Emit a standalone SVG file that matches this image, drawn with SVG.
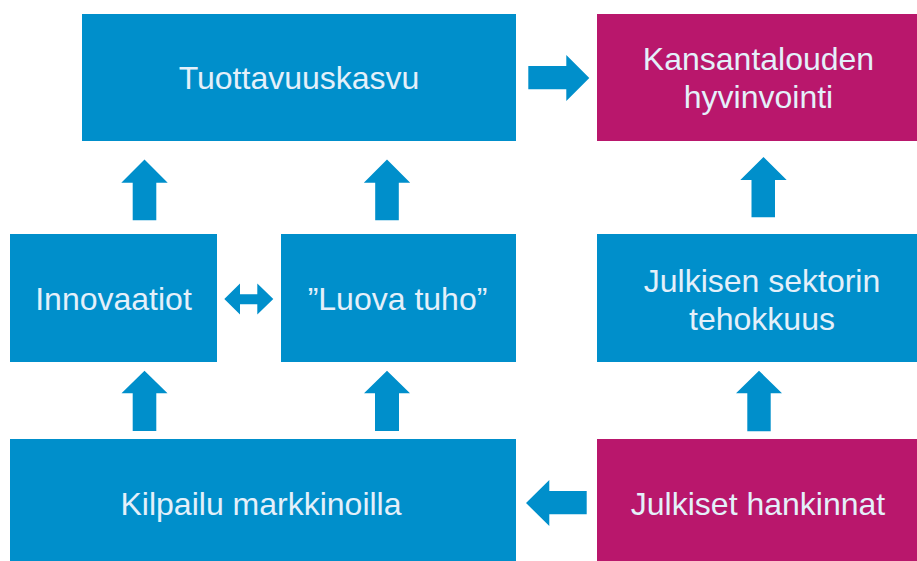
<svg xmlns="http://www.w3.org/2000/svg" width="917" height="561" viewBox="0 0 917 561">
<style>
.b{fill:#008fcb}
.m{fill:#b9176c}
.t{fill:#e4f0fa;font-family:"Liberation Sans",Arial,sans-serif;font-size:32px;text-anchor:middle}
.a{fill:#008fcb}
</style>
<rect width="917" height="561" fill="#ffffff"/>
<g id="tuottavuuskasvu"><rect class="b" x="82" y="14" width="434" height="127"/><text class="t" x="299" y="89">Tuottavuuskasvu</text></g>
<g id="kansantalouden"><rect class="m" x="597" y="14" width="320" height="127"/><text class="t" x="758.5" y="69.5">Kansantalouden</text><text class="t" x="758.5" y="107.5">hyvinvointi</text></g>
<g id="innovaatiot"><rect class="b" x="10" y="234" width="207" height="128"/><text class="t" x="113.5" y="310">Innovaatiot</text></g>
<g id="luova"><rect class="b" x="281" y="234" width="235" height="128"/><text class="t" x="397.5" y="310">”Luova tuho”</text></g>
<g id="julkisen"><rect class="b" x="597" y="234" width="320" height="128"/><text class="t" x="762" y="291.5">Julkisen sektorin</text><text class="t" x="762" y="329.5">tehokkuus</text></g>
<g id="kilpailu"><rect class="b" x="10" y="439" width="506" height="122"/><text class="t" x="261" y="515">Kilpailu markkinoilla</text></g>
<g id="hankinnat"><rect class="m" x="597" y="439" width="320" height="122"/><text class="t" x="758" y="515">Julkiset hankinnat</text></g>
<g id="connectors">
<polygon class="a" points="144.5,159.5 167.7,182.7 156.3,182.7 156.3,220.3 132.7,220.3 132.7,182.7 121.3,182.7"/>
<polygon class="a" points="387,159.5 410.2,182.7 398.8,182.7 398.8,220.3 375.2,220.3 375.2,182.7 363.8,182.7"/>
<polygon class="a" points="144.5,370.7 167.5,393.3 156.3,393.3 156.3,431 132.7,431 132.7,393.3 121.5,393.3"/>
<polygon class="a" points="387,370.7 410,393.3 399,393.3 399,431 375,431 375,393.3 364,393.3"/>
<polygon class="a" points="763.5,157 786.7,180 775,180 775,217.3 751.5,217.3 751.5,180 740.3,180"/>
<polygon class="a" points="759,370.7 782,393.3 770.7,393.3 770.7,431.3 747.3,431.3 747.3,393.3 736,393.3"/>
<polygon class="a" points="528.3,66 566.3,66 566.3,55 589.3,78 566.3,101 566.3,89.3 528.3,89.3"/>
<polygon class="a" points="586.7,491 549.3,491 549.3,480 526,503 549.3,526 549.3,514.3 586.7,514.3"/>
<polygon class="a" points="224.3,299 240,283.5 240,294.3 257.3,294.3 257.3,283.5 273.3,299 257.3,314.5 257.3,304.3 240,304.3 240,314.5"/>
</g>
</svg>
